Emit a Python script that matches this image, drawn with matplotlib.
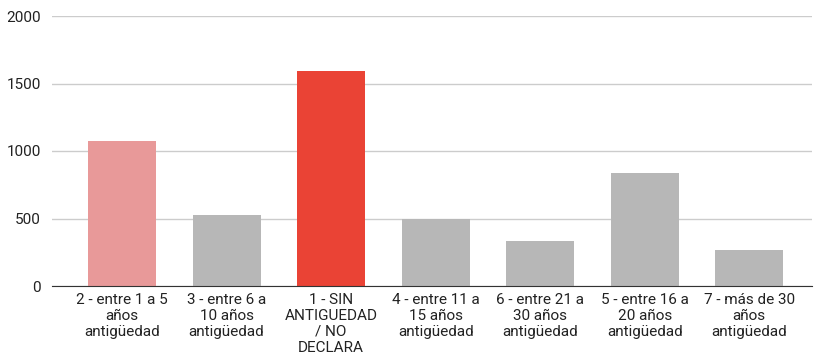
import matplotlib.pyplot as plt

categorias = [
    "2 - entre 1 a 5\naños\nantigüedad",
    "3 - entre 6 a\n10 años\nantigüedad",
    "1 - SIN\nANTIGUEDAD\n/ NO\nDECLARA",
    "4 - entre 11 a\n15 años\nantigüedad",
    "6 - entre 21 a\n30 años\nantigüedad",
    "5 - entre 16 a\n20 años\nantigüedad",
    "7 - más de 30\naños\nantigüedad",
]
valores = [1075, 526, 1590, 497, 333, 838, 267]
colores = ["#E89999", "#B7B7B7", "#EA4335", "#B7B7B7", "#B7B7B7", "#B7B7B7", "#B7B7B7"]
yticks = [0, 500, 1000, 1500, 2000]

plt.rcParams['font.family'] = ['Roboto', 'DejaVu Sans']

fig = plt.figure(figsize=(8.15, 3.59), dpi=100)
ax = fig.add_axes([52 / 815, 1 - 286 / 359, (812 - 52) / 815, 270 / 359])

x = range(len(categorias))
ax.bar(x, valores, width=0.65, color=colores, zorder=3)

ax.set_ylim(0, 2000)
ax.set_xlim(-0.67, 6.6)
ax.set_yticks(yticks)
ax.set_yticklabels([str(t) for t in yticks], fontsize=11, color="#222222")
ax.set_xticks(list(x))
ax.set_xticklabels(categorias, fontsize=11, color="#222222", linespacing=1.17)

ax.grid(axis='y', color="#CCCCCC", linewidth=1, zorder=0)
for s in ['top', 'right', 'left']:
    ax.spines[s].set_visible(False)
ax.spines['bottom'].set_color("#333333")
ax.spines['bottom'].set_zorder(4)
ax.tick_params(axis='x', length=0, pad=5)
ax.tick_params(axis='y', length=0, pad=8)

fig.savefig("out.png", dpi=100)
